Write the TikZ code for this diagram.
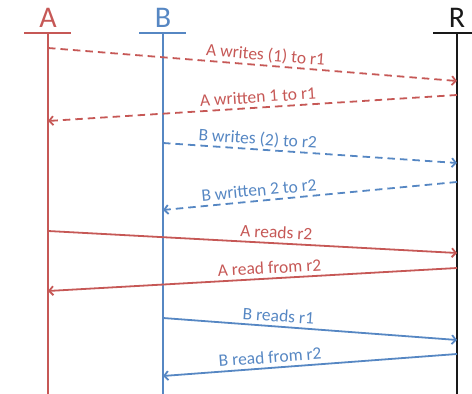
\documentclass[tikz,border=0pt]{standalone}
\usepackage{fontspec}
\setmainfont{Carlito}
\usepackage{tikz}
\usetikzlibrary{arrows.meta, positioning}
\definecolor{corA}{RGB}{198, 88, 86}
\definecolor{corB}{RGB}{86, 135, 195}
\definecolor{corR}{RGB}{25, 25, 25}

\begin{document}
\begin{tikzpicture}[
    x=1pt, y=1pt,
    head/.style={font=\fontsize{30}{30}\selectfont, anchor=base, inner sep=0pt},
    life/.style={line width=1.8pt},
    msg/.style={line width=1.8pt, -{Straight Barb[length=4pt, width=9pt]}},
    msgdash/.style={msg, dash pattern=on 7.5pt off 5pt},
    lbl/.style={font=\fontsize{17.5}{17.5}\selectfont, sloped, above=4pt, inner sep=0pt, text depth=0pt}
]
\useasboundingbox (0,0) rectangle (472,394);

\node[head, text=corA] (A) at (48,366) {A};
\node[head, text=corB] (B) at (163,366) {B};
\node[head, text=corR] (R) at (457,366) {R};

\coordinate (topA) at (48,361);
\coordinate (topB) at (163,361);
\coordinate (topR) at (457,361);
\coordinate (endA) at (48,0);
\coordinate (endB) at (163,0);
\coordinate (endR) at (457,0);

\draw[life, corA] ([xshift=-24pt]topA) -- ([xshift=23pt]topA);
\draw[life, corB] ([xshift=-24pt]topB) -- ([xshift=23pt]topB);
\draw[life, corR] ([xshift=-24pt]topR) -- ([xshift=15pt]topR);
\draw[life, corA] (topA) -- (endA);
\draw[life, corB] (topB) -- (endB);
\draw[life, corR] (topR) -- (endR);

\coordinate (a1) at (48,346);  \coordinate (r1) at (457,313);
\coordinate (r2) at (457,299); \coordinate (a2) at (48,273);
\coordinate (b1) at (163,251); \coordinate (r3) at (457,231);
\coordinate (r4) at (457,212); \coordinate (b2) at (163,184);
\coordinate (a3) at (48,163);  \coordinate (r5) at (457,141);
\coordinate (r6) at (457,126); \coordinate (a4) at (48,103);
\coordinate (b3) at (163,76);  \coordinate (r7) at (457,54);
\coordinate (r8) at (457,40);  \coordinate (b4) at (163,18);

\draw[msgdash, corA] (a1) -- node[lbl, pos=0.53] {A writes (1) to r1} (r1);
\draw[msgdash, corA] (r2) -- node[lbl, pos=0.485] {A written 1 to r1} (a2);
\draw[msgdash, corB] (b1) -- node[lbl, pos=0.32] {B writes (2) to r2} (r3);
\draw[msgdash, corB] (r4) -- node[lbl, pos=0.67] {B written 2 to r2} (b2);
\draw[msg, corA] (a3) -- node[lbl, pos=0.557] {A reads r2} (r5);
\draw[msg, corA] (r6) -- node[lbl, pos=0.457] {A read from r2} (a4);
\draw[msg, corB] (b3) -- node[lbl, pos=0.39] {B reads r1} (r7);
\draw[msg, corB] (r8) -- node[lbl, pos=0.633] {B read from r2} (b4);
\end{tikzpicture}
\end{document}
